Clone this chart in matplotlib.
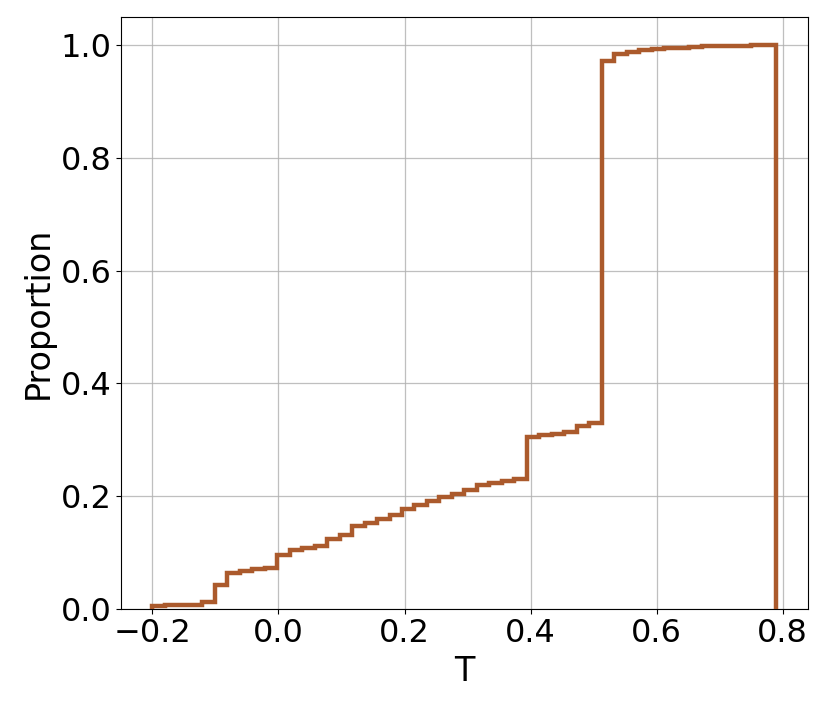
import numpy as np
import matplotlib
matplotlib.use('Agg')
import matplotlib.pyplot as plt

# Bin edges of the cumulative histogram (50 equal bins)
t_min = -0.2
t_max = 0.79
n_bins = 50

# Cumulative proportion at the end of each bin
cum_proportion = [
    0.005, 0.006, 0.007, 0.007, 0.012, 0.043, 0.063, 0.067, 0.070, 0.073,
    0.095, 0.104, 0.108, 0.112, 0.124, 0.131, 0.146, 0.153, 0.160, 0.167,
    0.177, 0.185, 0.192, 0.198, 0.204, 0.211, 0.219, 0.223, 0.226, 0.231,
    0.304, 0.308, 0.311, 0.313, 0.325, 0.330, 0.972, 0.985, 0.988, 0.992,
    0.994, 0.995, 0.996, 0.997, 0.998, 0.998, 0.999, 0.999, 1.000, 1.000,
]

edges = np.linspace(t_min, t_max, n_bins + 1)
centers = (edges[:-1] + edges[1:]) / 2
weights = np.diff(np.concatenate([[0.0], cum_proportion]))

fig = plt.figure(figsize=(8.3, 7.12), dpi=100)
ax = fig.add_axes([0.146, 0.145, 0.827, 0.831])
ax.hist(centers, bins=edges, weights=weights, histtype='step',
        cumulative=True, color='#ab5a2c', linewidth=3.2, zorder=3)
ax.grid(True, color='#b0b0b0', linewidth=0.9, alpha=0.8)
ax.set_axisbelow(True)
ax.set_xlabel('T', fontsize=24)
ax.set_ylabel('Proportion', fontsize=24)
ax.tick_params(labelsize=23)
fig.savefig('out.png', dpi=100)
